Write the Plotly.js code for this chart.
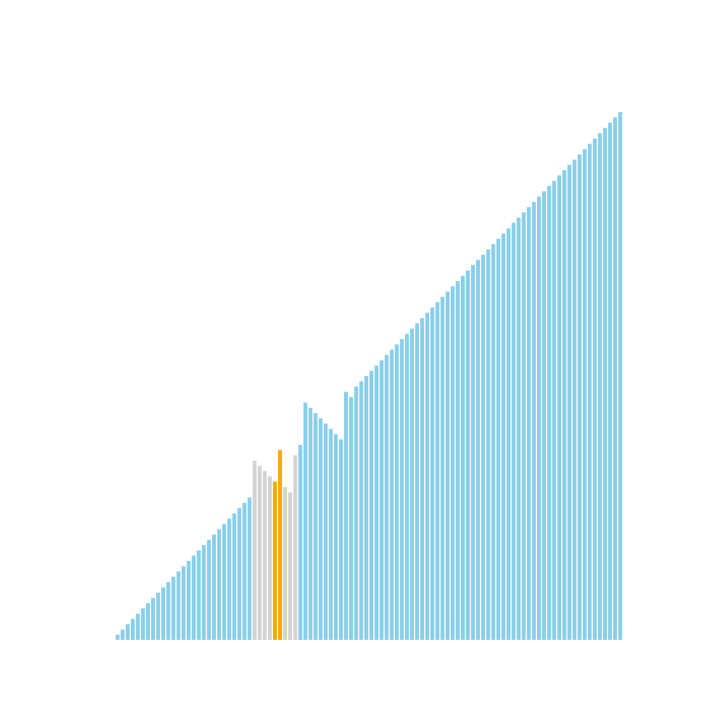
<!DOCTYPE html>
<html>
<head>
<meta charset="utf-8">
<script src="https://cdn.plot.ly/plotly-3.0.1.min.js"></script>
<style>
  html, body { margin: 0; padding: 0; background: #fff; }
  #chart { width: 720px; height: 720px; }
</style>
</head>
<body>
<div id="chart"></div>
<script>
// Array state during the sort step: positions and values
const positions = [];
for (let i = 0; i < 100; i++) positions.push(i);

const values = [
    1, 2, 3, 4, 5, 6, 7, 8, 9, 10,
    11, 12, 13, 14, 15, 16, 17, 18, 19, 20,
    21, 22, 23, 24, 25, 26, 27, 34, 33, 32,
    31, 30, 36, 29, 28, 35, 37, 45, 44, 43,
    42, 41, 40, 39, 38, 47, 46, 48, 49, 50,
    51, 52, 53, 54, 55, 56, 57, 58, 59, 60,
    61, 62, 63, 64, 65, 66, 67, 68, 69, 70,
    71, 72, 73, 74, 75, 76, 77, 78, 79, 80,
    81, 82, 83, 84, 85, 86, 87, 88, 89, 90,
    91, 92, 93, 94, 95, 96, 97, 98, 99, 100
];

// Which bars are highlighted: gray = active range, orange = pair being compared
const grayIdx = [27, 28, 29, 30, 33, 34, 35];
const orangeIdx = [31, 32];

const COLOR_BASE = '#87CEEB';
const COLOR_RANGE = '#D3D3D3';
const COLOR_PAIR = '#FFA500';

let colors = [];
for (let i in values) {
    let c = COLOR_BASE;
    if (grayIdx.includes(Number(i))) c = COLOR_RANGE;
    if (orangeIdx.includes(Number(i))) c = COLOR_PAIR;
    colors.push(c);
}

let bars = {
    x: positions,
    y: values,
    type: 'bar',
    marker: {
        color: colors,
        line: { color: 'rgba(255,255,255,0.5)', width: 0.5 }
    },
    hoverinfo: 'skip'
};

// Layout of the chart
let layout = {
    width: 720,
    height: 720,
    showlegend: false,
    bargap: 0.2,
    paper_bgcolor: '#fff',
    plot_bgcolor: '#fff',
    xaxis: {
        visible: false,
        range: [-7.39, 102.9]
    },
    yaxis: {
        visible: false,
        range: [0, 102.27]
    },
    margin: { l: 80, r: 80, t: 100, b: 80 }
};

let config = {
    displayModeBar: false,
    staticPlot: true
};

Plotly.newPlot(document.getElementById('chart'), [bars], layout, config);
</script>
</body>
</html>
